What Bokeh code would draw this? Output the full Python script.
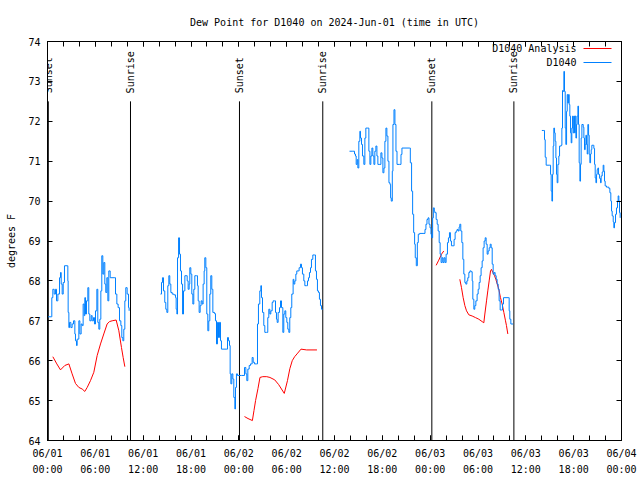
import math
from bokeh.plotting import figure
from bokeh.models import FixedTicker, LinearAxis, Label, LabelSet, Arrow, ColumnDataSource
from bokeh.core.properties import value
from bokeh.embed import file_html
from bokeh.resources import INLINE

FONT = "DejaVu Sans Mono"
RED = "#ff0000"
BLUE = "#0080ff"

title_text = "Dew Point for D1040 on 2024-Jun-01 (time in UTC)"
y_label = "degrees F"

# hours since 2024-06-01 00:00 UTC
x_tick_hours = [0, 6, 12, 18, 24, 30, 36, 42, 48, 54, 60, 66, 72]
x_tick_labels = ["06/01\n00:00", "06/01\n06:00", "06/01\n12:00", "06/01\n18:00",
                 "06/02\n00:00", "06/02\n06:00", "06/02\n12:00", "06/02\n18:00",
                 "06/03\n00:00", "06/03\n06:00", "06/03\n12:00", "06/03\n18:00",
                 "06/04\n00:00"]
x_minor_hours = list(range(0, 73, 2))
y_ticks = [64, 65, 66, 67, 68, 69, 70, 71, 72, 73, 74]

sun_hours = [0.1, 10.41, 24.08, 34.53, 48.21, 58.5]
sun_labels = ["Sunset", "Sunrise", "Sunset", "Sunrise", "Sunset", "Sunrise"]

# D1040 observations (blue), four segments
b1_h = [0.08,0.50,0.54,0.67,0.84,1.00,1.13,1.30,1.51,1.63,1.72,1.84,1.97,2.13,2.47,2.55,2.59,2.68,2.76,2.93,
        3.09,3.26,3.43,3.51,3.64,3.72,3.93,4.06,4.22,4.35,4.47,4.60,4.68,4.77,4.89,5.06,5.18,5.31,5.48,5.60,
        5.77,5.89,6.02,6.19,6.31,6.44,6.56,6.69,6.81,6.94,7.06,7.19,7.31,7.44,7.57,7.69,7.86,8.45,8.53,8.70,
        8.86,9.03,9.20,9.32,9.45,9.57,9.70,9.82,9.99,10.16,10.24]
b1_v = [67.1,67.1,67.58,67.79,67.67,67.79,67.5,67.67,68.08,68.21,67.92,67.67,67.96,68.38,68.38,68.0,67.21,66.83,66.96,66.83,
        66.92,67.0,66.67,66.5,66.38,66.54,67.0,66.67,66.92,66.88,67.42,67.13,67.58,67.17,67.5,67.83,67.17,67.0,67.13,67.0,
        67.08,66.92,67.25,67.79,66.96,66.79,67.04,67.75,68.63,68.17,68.46,67.92,67.71,68.08,67.5,68.25,68.08,68.08,67.67,67.42,
        67.33,67.0,66.88,66.58,66.5,66.79,67.5,67.83,67.67,67.33,67.25]

b2_h = [14.17,14.30,14.42,14.55,14.71,14.84,14.97,15.09,15.22,15.34,15.47,15.64,15.85,16.06,16.14,16.23,16.31,16.44,16.56,16.68,
        16.81,16.94,17.06,17.23,17.39,17.52,17.64,17.77,17.85,17.98,18.10,18.23,18.35,18.48,18.69,18.81,18.90,19.02,19.15,19.27,
        19.40,19.52,19.65,19.73,19.86,19.98,20.11,20.23,20.36,20.48,20.61,20.74,20.95,21.07,21.20,21.32,21.45,21.57,21.70,21.82,
        22.49,22.58,22.70,22.83,22.91,23.00,23.12,23.25,23.37,23.50,23.58,23.70,23.83,24.33,24.71,24.88,25.00,25.13,25.30,25.46,
        25.67,25.80,25.96,26.21,26.34,26.46,26.63,26.76,26.84,26.97,27.13,27.26,27.47,27.63,27.76,27.89,28.01,28.18,28.30,28.47,
        28.60,28.72,28.81,28.93,29.10,29.23,29.35,29.52,29.64,29.77,29.89,30.02,30.14,30.27,30.39,30.52,30.64,30.81,30.90,31.02,
        31.15,31.27,31.44,31.56,31.73,31.86,31.98,32.15,32.28,32.48,32.61,32.74,32.86,32.99,33.11,33.28,33.49,33.61,33.74,33.86,
        33.99,34.11,34.24,34.37,34.53]
b2_v = [67.67,67.96,68.08,67.75,67.46,67.29,67.21,67.88,68.13,67.92,67.71,67.67,67.65,67.58,67.29,67.17,68.58,69.08,68.67,68.25,
        67.92,67.17,67.75,68.13,68.13,68.0,67.79,67.92,68.33,68.17,67.67,67.42,67.79,68.13,68.13,67.88,67.5,67.21,67.38,67.5,
        67.42,67.92,68.25,68.58,68.33,67.17,66.75,67.0,67.67,68.13,67.79,67.21,67.18,67.0,66.42,66.96,66.58,66.96,66.5,66.29,
        66.29,66.58,66.5,66.38,65.67,65.42,65.67,65.54,65.08,64.79,65.33,65.67,65.63,65.63,65.83,65.67,65.5,65.79,65.88,65.92,
        66.08,65.96,65.92,65.92,66.92,67.42,67.75,67.88,67.58,67.21,66.88,66.71,66.71,67.08,67.29,67.17,67.25,67.46,67.5,67.5,
        67.21,67.04,66.96,67.21,67.33,67.5,67.33,66.71,67.17,67.25,67.08,66.96,66.79,66.71,67.08,67.33,67.67,68.04,67.92,68.0,
        68.17,68.25,68.25,68.33,68.42,68.33,68.17,68.0,67.88,67.88,68.0,68.08,68.21,68.33,68.54,68.65,68.65,68.25,68.04,67.75,
        67.71,67.54,67.38,67.29,67.29]

b3_h = [37.88,38.30,38.51,38.63,38.72,38.84,38.93,39.05,39.18,39.26,39.39,39.51,39.68,39.81,39.93,40.18,40.31,40.44,40.56,40.69,
        40.81,40.94,41.06,41.19,41.32,41.44,41.69,41.82,41.95,42.07,42.20,42.32,42.45,42.57,42.70,42.83,42.95,43.04,43.12,43.25,
        43.33,43.46,43.58,43.71,43.84,44.17,44.34,44.46,45.42,45.51,45.67,45.80,45.93,46.05,46.13,46.26,46.39,46.51,46.68,47.22,
        47.35,47.47,47.60,47.73,47.85,47.98,48.10,48.19,48.31,48.40,48.52,48.58,48.75,48.88,49.00,49.13,49.25,49.37,49.50,49.62,
        49.75,49.88,50.00,50.17,50.29,50.42,50.54,50.67,50.88,51.00,51.13,51.26,51.38,51.51,51.63,51.72,51.84,51.97,52.10,52.22,
        52.35,52.47,52.60,52.72,52.85,52.98,53.14,53.27,53.35,53.48,53.60,53.73,53.89,54.02,54.14,54.27,54.39,54.52,54.64,54.77,
        54.90,55.02,55.15,55.27,55.40,55.53,55.65,55.78,55.90,56.03,56.15,56.28,56.40,56.53,56.65,56.78,56.95,57.07,57.20,57.78,
        57.91,57.99,58.12,58.41]
b3_v = [71.25,71.25,71.18,71.13,70.92,71.04,70.83,71.5,71.75,71.58,71.42,71.13,70.92,71.58,71.83,71.83,71.25,70.92,71.13,71.33,
        71.13,70.92,71.25,71.38,71.13,70.92,70.92,71.21,71.08,70.71,70.83,71.5,71.83,71.63,71.0,70.46,70.42,70.08,70.0,70.75,
        71.92,72.29,71.92,71.25,70.92,70.92,71.17,71.33,71.33,70.96,70.25,69.67,69.21,68.92,68.58,68.38,68.96,69.17,69.19,69.19,
        69.29,69.42,69.54,69.58,69.42,69.33,69.17,69.08,69.58,69.83,69.75,69.71,69.54,69.42,69.25,68.96,68.67,68.46,68.58,68.46,
        68.58,68.46,68.67,68.96,69.08,69.21,69.0,68.88,68.88,69.04,69.21,69.25,69.29,69.25,69.35,69.42,69.25,68.96,68.54,68.17,
        67.96,67.92,68.0,68.08,68.21,68.25,68.23,68.0,67.54,67.29,67.38,67.5,67.67,67.79,67.96,68.13,68.33,68.5,68.83,69.0,
        69.08,68.92,68.67,68.75,68.83,68.92,68.83,68.42,68.17,68.21,68.13,68.04,67.92,67.79,67.5,67.27,67.27,67.42,67.58,67.58,
        67.25,67.04,66.92,66.92]

b4_h = [62.01,62.26,62.34,62.43,62.55,63.01,63.10,63.18,63.27,63.35,63.43,63.51,63.60,63.68,63.77,63.85,63.93,64.02,64.14,64.23,
        64.44,64.52,64.60,64.69,64.77,64.85,64.94,65.02,65.11,65.19,65.27,65.36,65.44,65.52,65.61,65.69,65.77,65.86,65.94,66.03,
        66.11,66.19,66.28,66.36,66.44,66.53,66.61,66.69,66.78,66.86,66.94,67.03,67.20,67.28,67.36,67.45,67.53,67.61,67.70,67.78,
        67.87,67.95,68.03,68.12,68.20,68.28,68.45,68.53,68.62,68.70,68.79,68.87,68.95,69.04,69.12,69.25,69.37,69.45,69.58,69.70,
        69.79,69.87,69.95,70.12,70.29,70.41,70.54,70.66,70.75,70.83,70.96,71.04,71.12,71.25,71.37,71.50,71.58,71.67,71.75,71.83]
b4_v = [71.77,71.77,71.54,71.1,70.9,70.9,70.67,70.25,70.0,70.67,71.38,71.83,71.71,71.5,71.08,70.67,70.46,70.92,71.13,71.38,
        71.4,71.83,72.77,72.75,73.25,72.75,71.83,71.42,72.25,72.67,72.46,72.67,72.42,72.13,71.71,71.46,71.83,72.13,71.71,72.13,
        71.71,72.13,71.58,71.92,72.13,72.38,71.92,70.96,70.5,70.92,71.58,71.92,71.85,71.58,71.29,71.42,71.65,71.42,71.18,71.92,
        71.65,71.17,70.96,71.18,71.29,71.4,71.4,71.32,70.92,70.58,70.46,70.67,70.79,70.83,70.67,70.57,70.46,70.63,70.73,70.9,
        70.75,70.5,70.38,70.35,70.35,70.32,70.21,70.0,69.75,69.63,69.48,69.33,69.46,69.67,69.83,70.0,70.13,70.0,69.71,69.58]

# D1040 Analysis (red), four segments
r1_h = [0.67,1.17,1.63,2.17,2.68,3.09,3.51,3.93,4.35,4.68,4.98,5.39,5.81,6.23,6.65,7.06,7.48,7.77,8.11,8.61,8.95,9.28,9.49,9.70]
r1_v = [66.1,65.92,65.77,65.88,65.92,65.67,65.43,65.33,65.29,65.23,65.33,65.5,65.71,66.13,66.42,66.67,66.92,66.98,67.0,67.02,66.75,66.33,66.08,65.85]
r2_h = [24.71,25.15,25.7,25.9,26.1,26.4,26.65,27.0,27.5,27.9,28.5,29.0,29.7,30.1,30.4,30.7,31.0,31.3,31.8,32.5,33.8]
r2_v = [64.6,64.55,64.5,64.75,65.0,65.3,65.58,65.6,65.6,65.58,65.52,65.4,65.18,65.5,65.8,66.0,66.1,66.17,66.29,66.27,66.27]
r3_h = [48.75,49.08,49.42,49.71]
r3_v = [68.39,68.52,68.67,68.75]
r4_h = [51.72,51.93,52.14,52.35,52.56,52.85,53.27,53.69,54.10,54.52,54.73,54.86,55.07,55.23,55.40,55.57,55.69,55.86,56.07,
        56.24,56.40,56.61,56.82,57.03,57.24,57.45,57.57,57.74]
r4_v = [68.04,67.83,67.58,67.38,67.25,67.15,67.12,67.08,67.04,66.98,66.95,67.17,67.5,67.75,68.0,68.25,68.29,68.21,68.13,
        68.04,67.93,67.79,67.58,67.42,67.21,67.0,66.88,66.67]

Y0, Y1 = 64, 74

p = figure(width=640, height=480, x_range=(0, 72), y_range=(Y0, Y1),
           output_backend="svg", toolbar_location=None,
           min_border_left=47, min_border_right=19, min_border_top=40, min_border_bottom=40)
p.background_fill_color = "white"
p.border_fill_color = "white"
p.outline_line_color = "black"
p.xgrid.visible = False
p.ygrid.visible = False

p.title.text = title_text
p.title.align = "center"
p.title.text_font = FONT
p.title.text_font_size = "10px"
p.title.text_font_style = "normal"
p.title.text_color = "black"
p.title.standoff = 28

xticker = FixedTicker(ticks=x_tick_hours, minor_ticks=x_minor_hours)
yticker = FixedTicker(ticks=y_ticks, minor_ticks=[])


def style(ax):
    ax.axis_line_color = "black"
    ax.major_tick_in = 5
    ax.major_tick_out = 0
    ax.minor_tick_in = 5
    ax.minor_tick_out = 0
    ax.major_tick_line_color = "black"
    ax.minor_tick_line_color = "black"
    ax.major_label_text_font = FONT
    ax.major_label_text_font_size = "10px"
    ax.major_label_text_color = "black"


xa = p.xaxis[0]
xa.ticker = xticker
xa.major_label_overrides = {h: lab for h, lab in zip(x_tick_hours, x_tick_labels)}
style(xa)
xa.major_label_standoff = 7
xa.major_label_text_line_height = 1.5

ya = p.yaxis[0]
ya.ticker = yticker
style(ya)
ya.major_label_standoff = 7
ya.axis_label = y_label
ya.axis_label_text_font = FONT
ya.axis_label_text_font_size = "10px"
ya.axis_label_text_font_style = "normal"
ya.axis_label_text_color = "black"
ya.axis_label_standoff = 8

top = LinearAxis(ticker=xticker, major_label_overrides={h: "" for h in x_tick_hours})
style(top)
top.major_label_standoff = 0
p.add_layout(top, "above")
right = LinearAxis(ticker=yticker, major_label_overrides={v: "" for v in y_ticks})
style(right)
right.major_label_standoff = 0
p.add_layout(right, "right")

# sunrise / sunset markers
line_top = Y0 + 0.85 * (Y1 - Y0)
label_y = Y0 + 0.87 * (Y1 - Y0)
p.segment(x0=sun_hours, y0=[Y0] * len(sun_hours), x1=sun_hours, y1=[line_top] * len(sun_hours),
          line_color="black", line_width=1)
sun_src = ColumnDataSource(dict(x=sun_hours, y=[label_y] * len(sun_hours), text=sun_labels))
p.add_layout(LabelSet(x="x", y="y", text="text", source=sun_src, angle=math.pi / 2,
                      text_align="left", text_baseline="middle", text_font=value(FONT),
                      text_font_size=value("10px"), text_color="black"))

for hh, vv in [(r1_h, r1_v), (r2_h, r2_v), (r3_h, r3_v), (r4_h, r4_v)]:
    p.line(hh, vv, line_color=RED, line_width=1)
for hh, vv in [(b1_h, b1_v), (b2_h, b2_v), (b3_h, b3_v), (b4_h, b4_v)]:
    p.step(hh, vv, mode="after", line_color=BLUE, line_width=1)

# key (gnuplot style: text right-justified, sample to the right)
for i, (name, col) in enumerate([("D1040 Analysis", RED), ("D1040", BLUE)]):
    ky = 392 - 14 * i
    p.add_layout(Label(x=529, y=ky, x_units="screen", y_units="screen", text=name,
                       text_align="right", text_baseline="middle", text_font=FONT,
                       text_font_size="10px", text_color="black"))
    p.add_layout(Arrow(end=None, x_start=536, y_start=ky, x_end=564, y_end=ky,
                       start_units="screen", end_units="screen", line_color=col, line_width=1))

open("out.html", "w").write(file_html(p, INLINE))
